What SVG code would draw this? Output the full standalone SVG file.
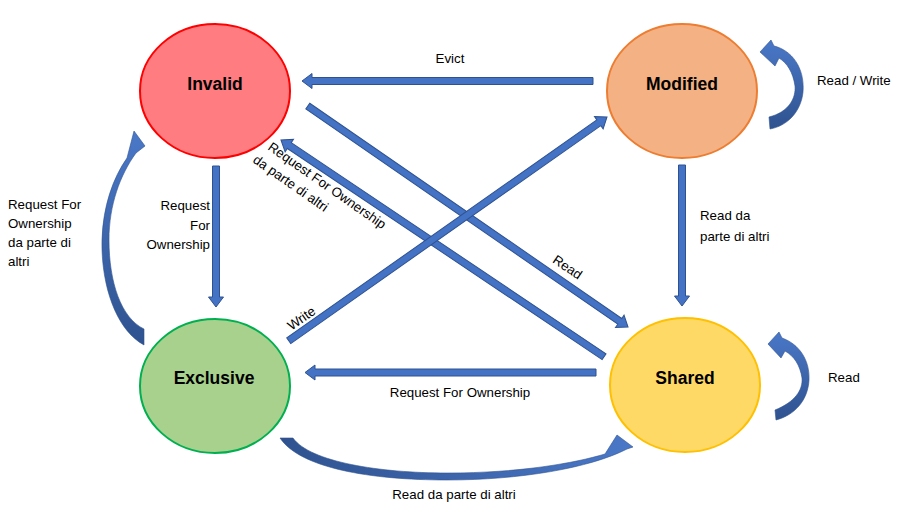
<svg xmlns="http://www.w3.org/2000/svg" width="903" height="517" viewBox="0 0 903 517">
<style>
.node{stroke-width:2}
.lbl{font-family:"Liberation Sans",Arial,sans-serif;font-weight:bold;font-size:17.5px;fill:#000;text-anchor:middle}
.t{font-family:"Liberation Sans",Arial,sans-serif;font-size:13.3px;fill:#000}
.arr{fill:#4472C4;stroke:#2F528F;stroke-width:1}
.cv{fill:url(#gv);stroke:#2F528F;stroke-width:0.6}
.ch{fill:url(#gh);stroke:#2F528F;stroke-width:0.6}
</style>
<defs>
<linearGradient id="gv" x1="0" y1="0" x2="0" y2="1">
<stop offset="0" stop-color="#4A78C8"/>
<stop offset="1" stop-color="#2F528F"/>
</linearGradient>
<linearGradient id="gh" x1="0" y1="0" x2="1" y2="0">
<stop offset="0" stop-color="#2F528F"/>
<stop offset="1" stop-color="#4A78C8"/>
</linearGradient>
<polygon id="a141" points="0,0 -10,-7.5 -10,-3.5 -141,-3.5 -141,3.5 -10,3.5 -10,7.5"/>
<polygon id="a291" points="0,0 -10,-7.5 -10,-3.5 -291,-3.5 -291,3.5 -10,3.5 -10,7.5"/>
<polygon id="a389" points="0,0 -10,-7.5 -10,-3.5 -389,-3.5 -389,3.5 -10,3.5 -10,7.5"/>
</defs>
<rect width="903" height="517" fill="#fff"/>
<g id="connectors">
<use href="#a291" class="arr" transform="translate(302,81) rotate(180)"/>
<use href="#a291" class="arr" transform="translate(305,372.5) rotate(180)"/>
<use href="#a141" class="arr" transform="translate(216,307) rotate(90)"/>
<use href="#a141" class="arr" transform="translate(682,306) rotate(90)"/>
<use href="#a389" class="arr" transform="translate(628,327) rotate(34.6)"/>
<use href="#a389" class="arr" transform="translate(281,140) rotate(-146.15)"/>
<use href="#a389" class="arr" transform="translate(607,117) rotate(-35.1)"/>
<path class="cv" d="M144,329 C121,318 109,282 109,240 C109,205 120,175 136,153 L145,146 L134,131 L127,158 C113,178 103,206 102,240 C101,285 116,330 144,345 Z"/>
<path class="cv" d="M769,117 C789,112 796,98 795,86 C793,72 787,63 779,58 L775,66 L760,52 L771,40 L774,46 C791,50 805,67 803,92 C801,112 787,126 770,129 Z"/>
<path class="cv" d="M775,410 C795,402 803,390 802,378 C800,365 794,356 785,351 L781,358 L768,344 L779,332 L782,338 C799,344 810,360 809,380 C808,400 795,415 776,420 Z"/>
<path class="ch" d="M293,438 C310,462 380,473 447,473 C520,473 575,463 605,454 L617,435 L633,447 L627,449 C590,468 520,480 447,480 C370,480 300,468 280,438 Z"/>
<text class="t" x="450" y="63" text-anchor="middle">Evict</text>
<text class="t" x="817" y="85">Read / Write</text>
<text class="t" x="8" y="209">Request For</text>
<text class="t" x="8" y="228">Ownership</text>
<text class="t" x="8" y="247">da parte di</text>
<text class="t" x="8" y="266">altri</text>
<text class="t" x="210" y="210" text-anchor="end">Request</text>
<text class="t" x="210" y="230" text-anchor="end">For</text>
<text class="t" x="210" y="249" text-anchor="end">Ownership</text>
<text class="t" x="700" y="220">Read da</text>
<text class="t" x="700" y="241">parte di altri</text>
<text class="t" transform="translate(565,271) rotate(34)" text-anchor="middle">Read</text>
<text class="t" transform="translate(304,322) rotate(-35)" text-anchor="middle">Write</text>
<g transform="translate(267,149) rotate(35)">
<text class="t" x="0" y="0">Request For Ownership</text>
<text class="t" x="-5" y="19">da parte di altri</text>
</g>
<text class="t" x="828" y="382">Read</text>
<text class="t" x="460" y="397" text-anchor="middle">Request For Ownership</text>
<text class="t" x="454" y="499" text-anchor="middle">Read da parte di altri</text>
</g>
<g id="invalid">
<ellipse class="node" cx="215" cy="91" rx="75" ry="67" fill="#FF7C80" stroke="#FF0000"/>
<text class="lbl" x="215" y="90">Invalid</text>
</g>
<g id="modified">
<ellipse class="node" cx="682" cy="91" rx="75" ry="67" fill="#F4B183" stroke="#ED7D31"/>
<text class="lbl" x="682" y="90">Modified</text>
</g>
<g id="exclusive">
<ellipse class="node" cx="215" cy="386" rx="75" ry="67" fill="#A9D18E" stroke="#00B050"/>
<text class="lbl" x="214" y="384">Exclusive</text>
</g>
<g id="shared">
<ellipse class="node" cx="685" cy="385" rx="75" ry="67" fill="#FFD966" stroke="#FFC000"/>
<text class="lbl" x="685" y="384">Shared</text>
</g>
</svg>
